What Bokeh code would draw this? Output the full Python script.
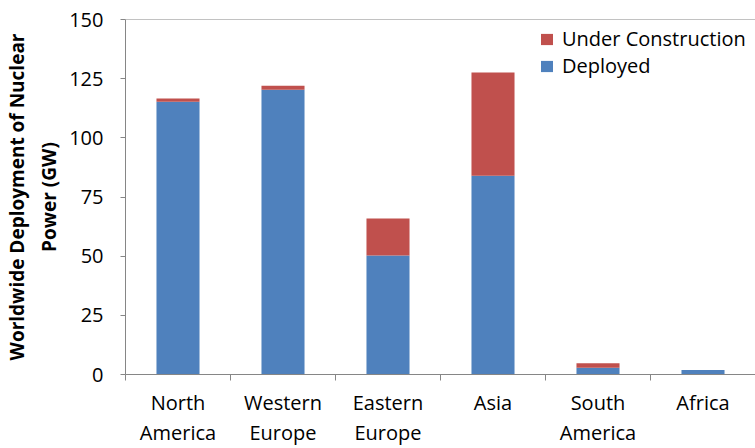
from bokeh.plotting import figure
from bokeh.models import (Range1d, FixedTicker, LinearAxis, Legend, LegendItem, Span)
from bokeh.embed import file_html
from bokeh.resources import INLINE

regions_top = ["North", "Western", "Eastern", "Asia", "South", "Africa"]
regions_bottom = ["America", "Europe", "Europe", "", "America", ""]
deployed = [115.2, 120.3, 50.3, 84.0, 2.8, 1.9]
under_construction = [1.4, 1.7, 15.6, 43.6, 2.0, 0.0]
y_ticks = [0, 25, 50, 75, 100, 125, 150]

BLUE = "#4F81BD"
RED = "#C0504D"
AXIS = "#868686"
FONT = "Open Sans"
FS = "20px"

xs = [i + 0.5 for i in range(len(regions_top))]
data = dict(x=xs, deployed=deployed, uc=under_construction)

p = figure(width=755, height=448, output_backend="svg", toolbar_location=None,
           x_range=Range1d(0, len(xs)), y_range=Range1d(0, 150),
           min_border_left=125, min_border_top=19, min_border_bottom=74,
           min_border_right=0, x_axis_type=None, y_axis_type=None)
p.outline_line_color = None
p.xgrid.visible = False
p.ygrid.visible = False

rs = p.vbar_stack(["deployed", "uc"], x="x", width=0.41, source=data,
                  color=[BLUE, RED], line_color=None)

# top border line at 150
p.add_layout(Span(location=150, dimension="width", line_color=AXIS, line_width=1))

# y axes
ya = LinearAxis(ticker=FixedTicker(ticks=y_ticks))
ya.axis_line_color = AXIS
ya.major_tick_line_color = AXIS
ya.major_tick_in = 0
ya.major_tick_out = 5
ya.minor_tick_line_color = None
ya.minor_tick_out = 0
ya.major_label_standoff = 17
ya.major_label_text_font = FONT
ya.major_label_text_font_size = FS
ya.major_label_text_color = "#000000"
ya.axis_label = "Power (GW)"
ya.axis_label_standoff = 4
ya.axis_label_text_font = FONT
ya.axis_label_text_font_size = "19px"
ya.axis_label_text_font_style = "bold"
ya.axis_label_text_color = "#000000"
p.add_layout(ya, "left")

ya2 = LinearAxis(ticker=FixedTicker(ticks=[]))
ya2.axis_line_color = None
ya2.major_tick_line_color = None
ya2.minor_tick_line_color = None
ya2.major_tick_out = 0
ya2.minor_tick_out = 0
ya2.major_label_standoff = 0
ya2.axis_label = "Worldwide Deployment of Nuclear"
ya2.axis_label_standoff = 4
ya2.axis_label_text_font = FONT
ya2.axis_label_text_font_size = "19px"
ya2.axis_label_text_font_style = "bold"
ya2.axis_label_text_color = "#000000"
p.add_layout(ya2, "left")

# x axes
bounds = list(range(len(xs) + 1))
xa = LinearAxis(ticker=FixedTicker(ticks=xs, minor_ticks=bounds))
xa.axis_line_color = AXIS
xa.major_tick_line_color = None
xa.major_tick_in = 0
xa.major_tick_out = 0
xa.minor_tick_line_color = AXIS
xa.minor_tick_in = 0
xa.minor_tick_out = 6
xa.major_label_overrides = {x: t for x, t in zip(xs, regions_top)}
xa.major_label_standoff = 8
xa.major_label_text_font = FONT
xa.major_label_text_font_size = FS
xa.major_label_text_color = "#000000"
p.add_layout(xa, "below")

xa2 = LinearAxis(ticker=FixedTicker(ticks=xs))
xa2.axis_line_color = None
xa2.major_tick_line_color = None
xa2.minor_tick_line_color = None
xa2.major_tick_in = 0
xa2.major_tick_out = 0
xa2.minor_tick_out = 0
xa2.major_label_overrides = {x: t for x, t in zip(xs, regions_bottom)}
xa2.major_label_standoff = 0
xa2.major_label_text_font = FONT
xa2.major_label_text_font_size = FS
xa2.major_label_text_color = "#000000"
p.add_layout(xa2, "below")

legend = Legend(items=[LegendItem(label="Under Construction", renderers=[rs[1]]),
                       LegendItem(label="Deployed", renderers=[rs[0]])],
                location=(414, 295))
legend.border_line_color = None
legend.background_fill_alpha = 0
legend.padding = 0
legend.margin = 0
legend.spacing = 0
legend.glyph_width = 15
legend.glyph_height = 14
legend.label_height = 25
legend.label_standoff = 8
legend.label_text_font = FONT
legend.label_text_font_size = FS
legend.label_text_color = "#000000"
p.add_layout(legend, "center")

open("out.html", "w").write(file_html(p, INLINE))
